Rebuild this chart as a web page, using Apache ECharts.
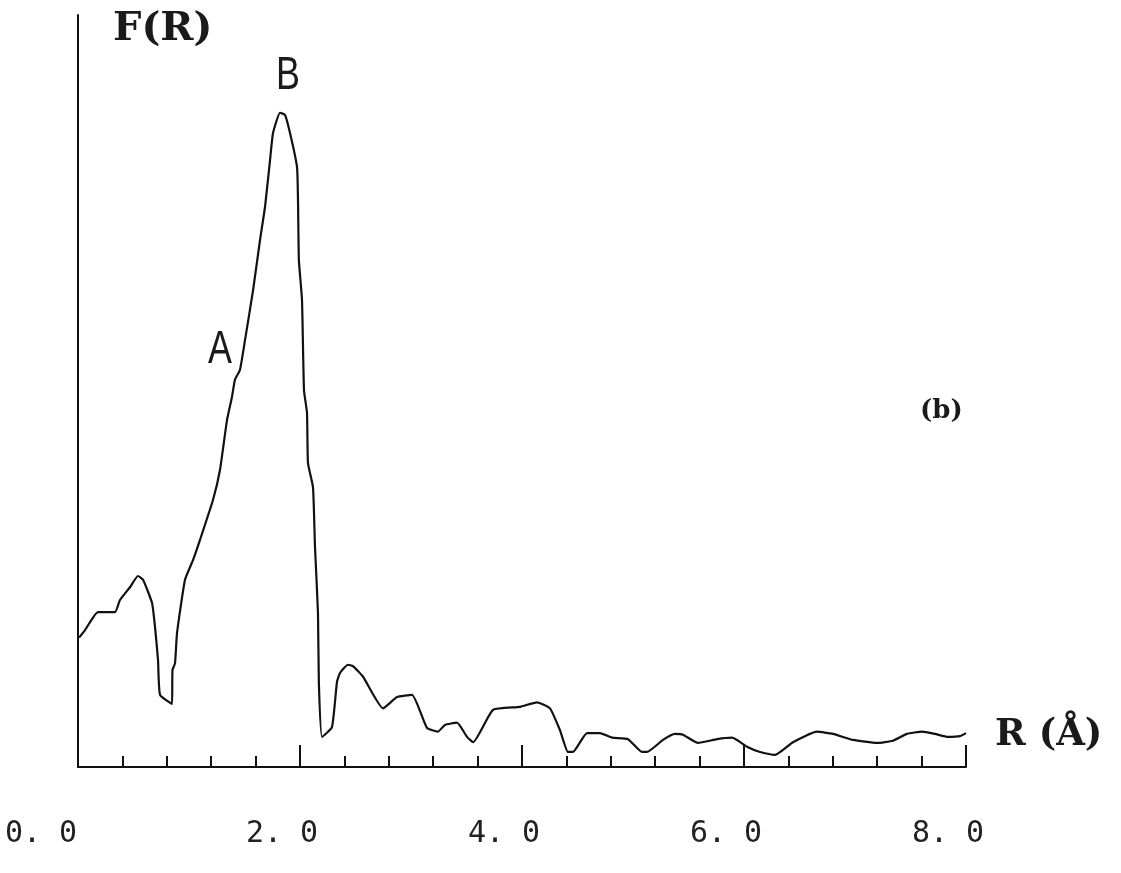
<!DOCTYPE html>
<html>
<head>
<meta charset="utf-8">
<script src="https://cdn.jsdelivr.net/npm/echarts@6/dist/echarts.min.js"></script>
<style>
html,body{margin:0;padding:0;background:#fff;}
#chart{width:1121px;height:873px;}
</style>
</head>
<body>
<div id="chart"></div>
<script>
// R (Angstrom) values along the curve
const rValues = [0.01,0.063,0.18,0.333,0.378,0.468,0.54,0.586,0.667,0.694,0.721,0.739,0.847,0.851,0.874,0.892,0.964,1.036,1.099,1.216,1.279,1.342,1.387,1.414,1.459,1.505,1.577,1.640,1.685,1.730,1.757,1.820,1.865,1.910,1.973,1.982,1.99,2.018,2.036,2.063,2.072,2.117,2.135,2.162,2.17,2.198,2.288,2.333,2.36,2.432,2.477,2.568,2.748,2.874,3.009,3.144,3.243,3.306,3.414,3.505,3.559,3.739,3.982,4.135,4.252,4.342,4.414,4.459,4.586,4.703,4.811,4.955,5.081,5.126,5.270,5.378,5.450,5.586,5.757,5.892,6.027,6.144,6.279,6.441,6.658,6.802,6.982,7.198,7.342,7.468,7.604,7.721,7.838,7.946,8.0];
// F(R) magnitude (arbitrary units, 0-100)
const fValues = [17.2,18.2,20.6,20.6,22.2,23.9,25.4,24.9,21.8,18.6,14.2,9.6,8.4,12.9,13.8,17.8,24.9,27.5,30.2,35.5,39.5,46.1,49.2,51.5,52.8,56.8,63.4,70.1,74.5,80.7,84.3,87.0,86.7,84.3,79.8,75.4,67.4,62.1,50.1,47.1,40.4,37.2,29.3,20.5,11.2,4.0,5.3,11.3,12.5,13.6,13.4,12.0,7.8,9.3,9.6,5.2,4.7,5.6,5.9,4.0,3.3,7.6,8.0,8.6,7.8,4.9,2.0,2.0,4.5,4.5,3.9,3.7,2.0,2.0,3.6,4.4,4.3,3.2,3.7,3.9,2.7,2.0,1.6,3.3,4.7,4.4,3.6,3.2,3.5,4.4,4.7,4.4,4.0,4.1,4.5];
const xTickLabels = {0:'0. 0', 2:'2. 0', 4:'4. 0', 6:'6. 0', 8:'8. 0'};
const peakLabels = ['A','B'];
const yTitle = 'F(R)';
const xTitle = 'R (Å)';
const panelTag = '(b)';

const seriesData = rValues.map((r,i)=>[r,fValues[i]]);

const chart = echarts.init(document.getElementById('chart'));
chart.setOption({
  backgroundColor:'#fff',
  animation:false,
  grid:{left:78,right:155,top:15,bottom:106,containLabel:false,outerBoundsMode:'none'},
  xAxis:{
    type:'value',min:0,max:8,interval:2,
    axisLine:{show:true,lineStyle:{color:'#111',width:2}},
    axisTick:{show:true,inside:true,length:22,lineStyle:{color:'#111',width:2}},
    minorTick:{show:true,splitNumber:5,length:11,lineStyle:{color:'#111',width:2}},
    splitLine:{show:false},
    axisLabel:{
      show:true,margin:52,hideOverlap:false,
      fontFamily:'DejaVu Sans Mono',fontSize:30,color:'#222',
      formatter:function(v){
        const key=Math.round(v);
        return key===0 ? '{z|'+xTickLabels[0]+'}' : '{n|'+xTickLabels[key]+'}';
      },
      rich:{
        z:{fontFamily:'DejaVu Sans Mono',fontSize:30,color:'#222',padding:[0,74,0,0]},
        n:{fontFamily:'DejaVu Sans Mono',fontSize:30,color:'#222',padding:[0,36,0,0]}
      }
    }
  },
  yAxis:{
    type:'value',min:0,max:100,
    axisLine:{show:true,lineStyle:{color:'#111',width:2}},
    axisTick:{show:false},axisLabel:{show:false},splitLine:{show:false}
  },
  series:[{
    type:'line',data:seriesData,showSymbol:false,smooth:0.15,
    lineStyle:{color:'#111',width:2.2}
  }],
  graphic:[
    {type:'text',left:113,top:10,style:{text:yTitle,font:'bold 40px "DejaVu Serif"',fill:'#1a1a1a'}},
    {type:'text',left:995,top:717,style:{text:xTitle,font:'bold 37px "DejaVu Serif"',fill:'#1a1a1a'}},
    {type:'text',left:920,top:398,style:{text:panelTag,font:'bold 26px "DejaVu Serif"',fill:'#1a1a1a'}},
    {type:'text',x:288,y:76,scaleX:0.78,style:{text:peakLabels[1],font:'46px "Liberation Sans"',fill:'#1a1a1a',align:'center',verticalAlign:'middle'}},
    {type:'text',x:220,y:350,scaleX:0.78,style:{text:peakLabels[0],font:'46px "Liberation Sans"',fill:'#1a1a1a',align:'center',verticalAlign:'middle'}}
  ]
});
</script>
</body>
</html>
